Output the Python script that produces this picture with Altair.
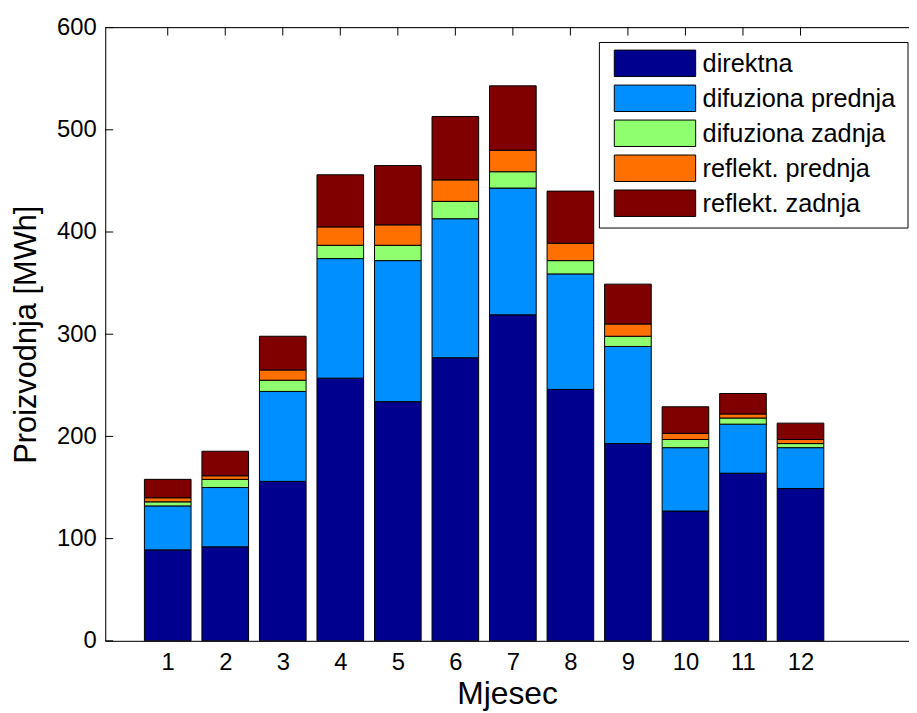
import altair as alt
import pandas as pd

months = list(range(1, 13))
series = ["direktna", "difuziona prednja", "difuziona zadnja", "reflekt. prednja", "reflekt. zadnja"]
colors = ["#00008F", "#008FFF", "#8FFF70", "#FF7000", "#800000"]

direktna = [89, 92, 156, 257, 234, 277, 319, 246, 193, 127, 164, 149]
difuziona_prednja = [43, 58, 88, 117, 138, 136, 124, 113, 95, 62, 48, 40]
difuziona_zadnja = [4, 8, 11, 13, 15, 17, 16, 13, 10, 8, 6, 4]
reflekt_prednja = [4, 3.5, 10, 18, 20, 21, 21, 17, 12, 6, 4, 4]
reflekt_zadnja = [18, 24, 33, 51, 58, 62, 63, 51, 39, 26, 20, 16]

y_ticks = [0, 100, 200, 300, 400, 500, 600]

values = [direktna, difuziona_prednja, difuziona_zadnja, reflekt_prednja, reflekt_zadnja]
rows = []
for i, (name, vals) in enumerate(zip(series, values)):
    for m, v in zip(months, vals):
        rows.append({"m": m, "serija": name, "idx": i, "v": v})
df = pd.DataFrame(rows)

W, H = 810, 618
FONT = "Liberation Sans"

xscale = alt.Scale(domain=[0, 13.8], nice=False, zero=False)
yscale = alt.Scale(domain=[0, 600], nice=False)
xaxis = alt.Axis(
    values=months, ticks=False, grid=False, domainColor="black",
    labelFontSize=24, labelPadding=10, labelColor="black", labelFont=FONT,
    titleFontSize=32, titleFont=FONT, titleFontWeight="normal", titleColor="black",
    titlePadding=4, labelFlush=False)

bars = alt.Chart(df).mark_bar(size=47, stroke="black", strokeWidth=1).encode(
    x=alt.X("m:Q", scale=xscale, title="Mjesec", axis=xaxis),
    y=alt.Y("v:Q", stack="zero", scale=yscale, axis=alt.Axis(
        title="Proizvodnja [MWh]", values=y_ticks, ticks=False, grid=False,
        domainColor="black", labelFontSize=24, labelPadding=9, labelColor="black",
        labelFont=FONT, titleFontSize=31, titleFont=FONT, titleFontWeight="normal",
        titleColor="black", titlePadding=14)),
    color=alt.Color("serija:N", scale=alt.Scale(domain=series, range=colors), legend=None),
    order=alt.Order("idx:Q", sort="ascending"),
)

top_line = alt.Chart(pd.DataFrame({"a": [0]})).mark_rule(color="black", strokeWidth=1).encode(
    x=alt.value(0), x2=alt.value(W), y=alt.value(0), y2=alt.value(0)
)

top_ticks = alt.Chart(pd.DataFrame({"m": months})).mark_rule(color="black", strokeWidth=1).encode(
    x=alt.X("m:Q", scale=xscale, title="Mjesec", axis=xaxis), y=alt.value(0), y2=alt.value(8)
)

left_ticks = alt.Chart(pd.DataFrame({"t": y_ticks})).mark_rule(color="black", strokeWidth=1).encode(
    y=alt.Y("t:Q", scale=yscale, axis=None), x=alt.value(0), x2=alt.value(8)
)

leg_df = pd.DataFrame({"serija": series, "boja": colors})
leg_box = alt.Chart(pd.DataFrame({"a": [0]})).mark_rect(fill="white", stroke="black", strokeWidth=1).encode(
    x=alt.value(498), x2=alt.value(809), y=alt.value(15), y2=alt.value(202)
)
leg_y = alt.Y("serija:N", sort=series, axis=None,
              scale=alt.Scale(type="point", domain=series, range=[36, 177], padding=0))
leg_sym = alt.Chart(leg_df).mark_point(
    shape="M-1,-0.325L1,-0.325L1,0.325L-1,0.325Z", size=82 * 82, filled=True,
    stroke="black", strokeWidth=1, opacity=1
).encode(
    x=alt.value(554), y=leg_y,
    fill=alt.Fill("boja:N", scale=None),
)
leg_txt = alt.Chart(leg_df).mark_text(
    align="left", baseline="middle", fontSize=25.5, font=FONT, color="black", dy=1
).encode(
    x=alt.value(602), y=leg_y, text="serija:N"
)

chart = alt.layer(bars, top_line, top_ticks, left_ticks, leg_box, leg_sym, leg_txt).resolve_scale(
    y="independent"
).properties(
    width=W, height=H,
    autosize=alt.AutoSizeParams(type="none"),
    padding={"left": 98, "top": 17, "right": 0, "bottom": 72},
).configure_view(stroke=None).configure(background="white")

chart.save("out.html", embed_options={"renderer": "svg", "actions": False})
